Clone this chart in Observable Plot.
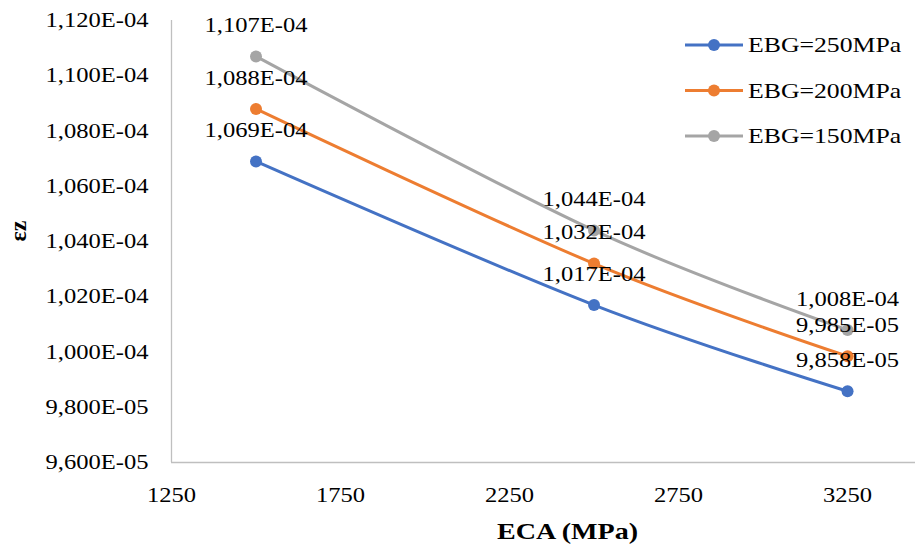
<!DOCTYPE html>
<html>
<head>
<meta charset="utf-8">
<script src="https://cdn.jsdelivr.net/npm/d3@7"></script>
<script src="https://cdn.jsdelivr.net/npm/@observablehq/plot@0.6"></script>
<style>
  body { margin: 0; background: #fff; }
  #chart { position: relative; width: 915px; height: 548px; }
</style>
</head>
<body>
<div id="chart"></div>
<script>
// ECA values (MPa) on the x axis
const eca = [1500, 2500, 3250];
// Series names and strain values εz
const seriesNames = ["EBG=250MPa", "EBG=200MPa", "EBG=150MPa"];
const ebg250 = [1.069e-4, 1.017e-4, 9.858e-5];
const ebg200 = [1.088e-4, 1.032e-4, 9.985e-5];
const ebg150 = [1.107e-4, 1.044e-4, 1.008e-4];
const colors = ["#4472C4", "#ED7D31", "#A5A5A5"];
// Axis ticks
const xTicks = [1250, 1750, 2250, 2750, 3250];
const yTicks = [9.6e-5, 9.8e-5, 1.0e-4, 1.02e-4, 1.04e-4, 1.06e-4, 1.08e-4, 1.10e-4, 1.12e-4];

const rows = [];
[ebg250, ebg200, ebg150].forEach((vals, i) =>
  vals.forEach((v, j) => rows.push({series: seriesNames[i], eca: eca[j], ez: v}))
);

// Scientific notation with a decimal comma, e.g. 1,069E-04
const sci = v => {
  const [m, e] = v.toExponential(3).split("e");
  const n = +e;
  return m.replace(".", ",") + "E" + (n < 0 ? "-" : "+") + String(Math.abs(n)).padStart(2, "0");
};

const serif = "'Liberation Serif', 'Times New Roman', serif";
const axisGrey = "#BFBFBF";

const chart = Plot.plot({
  width: 915,
  height: 548,
  marginLeft: 171,
  marginRight: 0,
  marginTop: 20,
  marginBottom: 86,
  style: {fontFamily: serif, fontSize: "21px", color: "#000", background: "#fff"},
  x: {domain: [1250, 3451]},
  y: {domain: [9.6e-5, 1.12e-4]},
  color: {domain: seriesNames, range: colors},
  marks: [
    Plot.ruleX([1250], {stroke: axisGrey, strokeWidth: 1.3}),
    Plot.ruleY([9.6e-5], {stroke: axisGrey, strokeWidth: 1.3}),
    Plot.axisX({ticks: xTicks, tickSize: 0, tickPadding: 25, label: null, tickFormat: d => String(d)}),
    Plot.axisY({ticks: yTicks, tickSize: 0, tickPadding: 23, label: null, tickFormat: sci}),
    Plot.line(rows, {x: "eca", y: "ez", z: "series", stroke: "series", strokeWidth: 3, curve: "cardinal"}),
    Plot.dot(rows, {x: "eca", y: "ez", fill: "series", r: 6}),
    Plot.text(rows, {x: "eca", y: "ez", text: d => sci(d.ez), dy: -31, fill: "#000"}),
    Plot.text(["ECA (MPa)"], {text: d => d, frameAnchor: "bottom", lineAnchor: "middle", dx: 24, dy: 69, fontWeight: "bold", fontSize: 24}),
    Plot.text(["εz"], {text: d => d, frameAnchor: "left", dx: -153, rotate: -90, fontWeight: "bold", fontSize: 24})
  ]
});

// Legend in the upper right corner
const svg = d3.select(chart);
const legend = svg.append("g").attr("font-family", serif).attr("font-size", 22).attr("text-anchor", "start");
seriesNames.forEach((name, i) => {
  const y = 45 + i * 45.5;
  const g = legend.append("g").attr("transform", `translate(0,${y})`);
  g.append("line").attr("x1", 685).attr("x2", 743).attr("stroke", colors[i]).attr("stroke-width", 3);
  g.append("circle").attr("cx", 714).attr("r", 6).attr("fill", colors[i]);
  g.append("text").attr("x", 748).attr("dy", "0.32em").attr("fill", "#000").text(name);
});

// Widen the serif glyphs horizontally around their anchors
const S = 1.17;
chart.querySelectorAll("text").forEach(t => {
  const tr = t.getAttribute("transform") || "";
  if (tr.includes("rotate")) return;
  let pre = "";
  for (const a of ["x", "y"]) {
    const v = t.getAttribute(a);
    if (v !== null && /^-?[\d.]+$/.test(v.trim())) {
      t.removeAttribute(a);
      pre += a === "x" ? ` translate(${+v},0)` : ` translate(0,${+v})`;
    }
  }
  t.setAttribute("transform", `${tr}${pre} scale(${S},1)`);
});

document.getElementById("chart").appendChild(chart);
</script>
</body>
</html>
